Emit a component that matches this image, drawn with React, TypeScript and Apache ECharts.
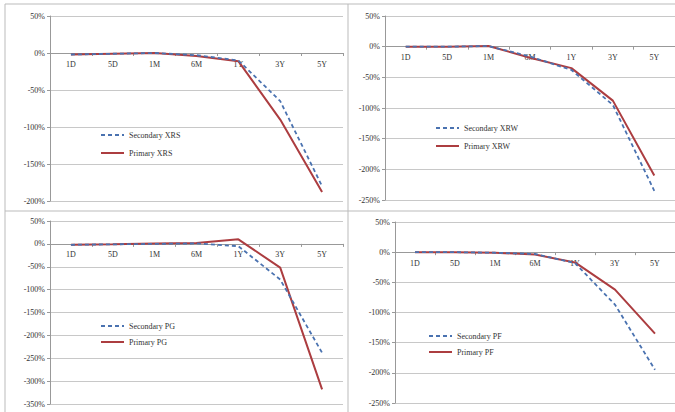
import React, { useEffect, useRef } from "react";
import * as echarts from "echarts";

const categories = ["1D", "5D", "1M", "6M", "1Y", "3Y", "5Y"];

const secondaryXRS = [-2, -1, 0, -3, -10, -65, -180];
const primaryXRS = [-2, -1, 0, -4, -11, -90, -188];

const secondaryXRW = [0, 0, 1, -16, -38, -95, -235];
const primaryXRW = [0, 0, 1, -18, -35, -88, -210];

const secondaryPG = [-2, -1, 0, 1, -5, -78, -238];
const primaryPG = [-2, -1, 1, 2, 10, -52, -318];

const secondaryPF = [0, 0, -1, -3, -18, -87, -195];
const primaryPF = [0, 0, -1, -4, -17, -62, -135];

const panelNames = ["XRS", "XRW", "PG", "PF"];
const yMins = [-200, -250, -350, -250];
const yMax = 50;

const PRIMARY = "#ac3d40";
const SECONDARY = "#4a72b0";
const FONT = "Liberation Serif";

export default function App() {
  const ref = useRef<HTMLDivElement>(null);
  useEffect(() => {
    if (!ref.current) return;
    const chart = echarts.init(ref.current, undefined, { renderer: "svg" });
    const grids = [
      { left: 50, top: 16, width: 293, height: 185 },
      { left: 385, top: 16, width: 305, height: 184 },
      { left: 50, top: 221, width: 293, height: 183 },
      { left: 395, top: 222, width: 298, height: 181 },
    ];
    const legendPos = [
      { left: 100, top: 131, itemGap: 10 },
      { left: 435, top: 124, itemGap: 10 },
      { left: 100, top: 322, itemGap: 8 },
      { left: 428, top: 332, itemGap: 8 },
    ];
    const secs = [secondaryXRS, secondaryXRW, secondaryPG, secondaryPF];
    const prims = [primaryXRS, primaryXRW, primaryPG, primaryPF];

    const xAxis = grids.map((g, i) => ({
      type: "category",
      gridIndex: i,
      data: categories,
      position: "bottom",
      offset: -(g.height * (0 - yMins[i])) / (yMax - yMins[i]),
      axisLine: { onZero: false, lineStyle: { color: "#999", width: 1 } },
      axisTick: { show: true, length: 3, lineStyle: { color: "#999" } },
      axisLabel: { fontFamily: FONT, fontSize: 8, color: "#333", margin: 7 },
      splitLine: { show: false },
    }));
    const yAxis = grids.map((_, i) => ({
      type: "value",
      gridIndex: i,
      min: yMins[i],
      max: yMax,
      interval: 50,
      axisLine: { show: true, onZero: false, lineStyle: { color: "#999" } },
      axisTick: { show: true, length: 3, lineStyle: { color: "#999" } },
      axisLabel: {
        fontFamily: FONT,
        fontSize: 8,
        color: "#333",
        margin: 5,
        formatter: (v: number) => `${v}%`,
      },
      splitLine: { show: true, lineStyle: { color: "#c8c8c8", width: 1 } },
    }));
    const series: any[] = [];
    const legends: any[] = [];
    panelNames.forEach((n, i) => {
      series.push({
        name: `Secondary ${n}`,
        type: "line",
        xAxisIndex: i,
        yAxisIndex: i,
        data: secs[i],
        symbol: "none",
        showSymbol: false,
        lineStyle: { color: SECONDARY, width: 1.8, type: [4, 3] },
        itemStyle: { color: SECONDARY },
        z: 3,
      });
      series.push({
        name: `Primary ${n}`,
        type: "line",
        xAxisIndex: i,
        yAxisIndex: i,
        data: prims[i],
        symbol: "none",
        showSymbol: false,
        lineStyle: { color: PRIMARY, width: 2 },
        itemStyle: { color: PRIMARY },
        z: 2,
      });
      legends.push({
        data: [`Secondary ${n}`, `Primary ${n}`],
        orient: "vertical",
        left: legendPos[i].left,
        top: legendPos[i].top,
        itemGap: legendPos[i].itemGap,
        itemWidth: 23,
        itemHeight: 8,
        padding: 0,
        itemStyle: { color: "rgba(0,0,0,0)", borderWidth: 0, opacity: 0 },
        textStyle: { fontFamily: FONT, fontSize: 8, color: "#333" },
      });
    });
    const borderStyle = { stroke: "#bbbbbb", lineWidth: 1 };
    chart.setOption({
      animation: false,
      backgroundColor: "#ffffff",
      grid: grids,
      xAxis,
      yAxis,
      series,
      legend: legends,
      graphic: [
        { type: "line", shape: { x1: 5, y1: 4, x2: 5, y2: 412 }, style: borderStyle, silent: true },
        { type: "line", shape: { x1: 5, y1: 4, x2: 675, y2: 4 }, style: borderStyle, silent: true },
        { type: "line", shape: { x1: 348, y1: 4, x2: 348, y2: 412 }, style: borderStyle, silent: true },
        { type: "line", shape: { x1: 5, y1: 211, x2: 675, y2: 211 }, style: borderStyle, silent: true },
      ],
    });
    return () => chart.dispose();
  }, []);
  return (
    <div
      style={{ position: "fixed", left: 0, top: 0, width: 675, height: 412, overflow: "hidden", background: "#fff" }}
    >
      <div ref={ref} style={{ width: 675, height: 412 }} />
    </div>
  );
}
